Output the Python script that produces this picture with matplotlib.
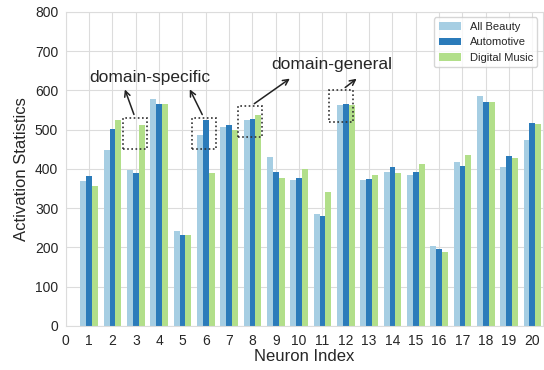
import numpy as np
import matplotlib
matplotlib.use("Agg")
import matplotlib.pyplot as plt
import seaborn as sns
from matplotlib.patches import Rectangle

sns.set_style("whitegrid", {"grid.color": "#dcdcdc", "axes.edgecolor": "#dcdcdc"})
plt.rcParams['font.family'] = ['Liberation Sans', 'DejaVu Sans']

# neuron indices and activation values per domain
neurons = list(range(1, 21))
all_beauty = [369, 448, 397, 578, 242, 487, 507, 525, 431, 372,
              285, 563, 372, 392, 385, 204, 418, 586, 405, 474]
automotive = [382, 502, 390, 566, 232, 525, 512, 527, 392, 377,
              280, 566, 374, 405, 392, 196, 408, 571, 433, 517]
digital_music = [357, 525, 512, 566, 232, 390, 499, 538, 377, 400,
                 341, 563, 385, 390, 413, 189, 436, 571, 428, 515]

series = [("All Beauty", all_beauty, "#a6cee3"),
          ("Automotive", automotive, "#2b7bba"),
          ("Digital Music", digital_music, "#b2df8a")]

# highlighted neurons (dotted boxes): (x0, y0, x1, y1)
spec_boxes = [(2.45, 451, 3.47, 530), (5.4, 451, 6.43, 530)]
gen_boxes = [(7.36, 481, 8.39, 560), (11.3, 520, 12.3, 601)]

fig = plt.figure(figsize=(5.44, 3.7), dpi=100)
ax = fig.add_axes([0.121, 0.119, 0.877, 0.849])

x = np.array(neurons)
w = 0.25
for i, (name, vals, col) in enumerate(series):
    ax.bar(x + (i - 1) * w, vals, width=w, color=col, label=name,
           linewidth=0, zorder=2)

for (x0, y0, x1, y1) in spec_boxes + gen_boxes:
    ax.add_patch(Rectangle((x0, y0), x1 - x0, y1 - y0, fill=False,
                           linestyle=(0, (1, 1.5)), edgecolor="#333333",
                           linewidth=1.2, zorder=3))

arrow = dict(arrowstyle="->", color="#222222", lw=1.1)
ax.text(3.6, 634, "domain-specific", ha="center", va="center", fontsize=12.5)
ax.annotate("", xy=(2.49, 609), xytext=(2.96, 532), arrowprops=arrow)
ax.annotate("", xy=(5.26, 609), xytext=(5.9, 532), arrowprops=arrow)
ax.text(11.4, 665, "domain-general", ha="center", va="center", fontsize=12.5)
ax.annotate("", xy=(9.7, 634), xytext=(7.98, 562), arrowprops=arrow)
ax.annotate("", xy=(12.56, 634), xytext=(11.88, 603), arrowprops=arrow)

ax.set_xlim(0, 20.45)
ax.set_ylim(0, 800)
ax.set_xticks(range(0, 21))
ax.set_yticks(range(0, 801, 100))
ax.tick_params(labelsize=10, pad=2)
ax.set_xlabel("Neuron Index", fontsize=12, labelpad=1)
ax.set_ylabel("Activation Statistics", fontsize=12)
ax.legend(loc="upper right", fontsize=8)

fig.savefig("out.png", dpi=100)
